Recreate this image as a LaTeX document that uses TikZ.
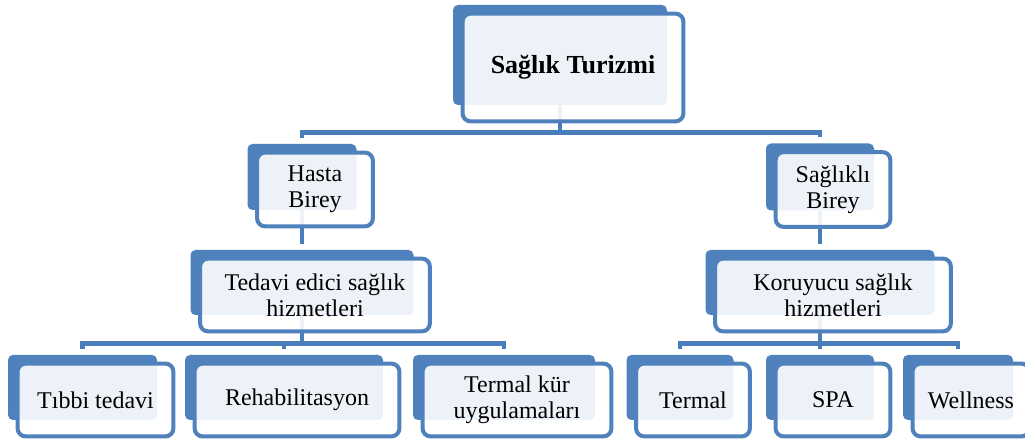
\documentclass[tikz,border=0pt]{standalone}
\usepackage{fontspec}
\setmainfont{Liberation Serif}
\usepackage{tikz}
\usetikzlibrary{calc}

\definecolor{smartblue}{HTML}{4F81BD}
\definecolor{linkblue}{HTML}{4A7EBB}

\tikzset{
	back box/.style={fill=smartblue, rounded corners=2.5pt, inner sep=0pt},
	front box/.style={draw=smartblue, line width=2pt, fill=white, fill opacity=0.9, draw opacity=1, rounded corners=4pt},
	box text/.style={align=center, text=black, font=\fontsize{12}{13}\selectfont, inner sep=0pt},
	link/.style={draw=linkblue, line width=2.2pt},
}

\begin{document}
\begin{tikzpicture}[x=0.5pt, y=-0.5pt]
		\useasboundingbox (0,0) rectangle (1025,442);
		
		% name/x/y/width/height/text
		\def\boxlist{
			top/560/55/214/100/{\fontsize{13}{14}\selectfont\bfseries Sağlık Turizmi},
			hasta/302/177/109/66/{Hasta\\Birey},
			saglikli/820/177/108/67/{Sağlıklı\\Birey},
			tedavi/302/282.5/223/65/{Tedavi edici sağlık\\hizmetleri},
			koruyucu/820/282.5/229/65/{Koruyucu sağlık\\hizmetleri},
			tibbi/82.5/387.5/149/65/{Tıbbi tedavi},
			rehab/284/387.5/198/65/{Rehabilitasyon},
			termalkur/504/387.5/182/65/{Termal kür\\uygulamaları},
			termal/680/387.5/107/65/{Termal},
			spa/820/387.5/108/65/{SPA},
			wellness/958/387.5/110/65/{Wellness}}
		
		\foreach \nm/\cx/\cy/\w/\h/\txt in \boxlist
			\node[back box, minimum width=\w*0.5pt, minimum height=\h*0.5pt] (\nm) at (\cx,\cy) {};
		
		% links
		\draw[link, shorten >=3pt] (top.south) -- ++(0,27) -| (hasta.north);
		\draw[link, shorten >=3pt] (top.south) -- ++(0,27) -| (saglikli.north);
		\draw[link, shorten >=3pt] (hasta.south) -- (tedavi.north);
		\draw[link, shorten >=3pt] (saglikli.south) -- (koruyucu.north);
		\foreach \kid in {tibbi, rehab, termalkur}
			\draw[link, shorten >=3pt] (tedavi.south) -- ++(0,28) -| (\kid.north);
		\foreach \kid in {termal, spa, wellness}
			\draw[link, shorten >=3pt] (koruyucu.south) -- ++(0,28) -| (\kid.north);
		
		\foreach \nm/\cx/\cy/\w/\h/\txt in \boxlist {
			\draw[front box] ($(\nm.north west)+(10,9)$) rectangle ($(\nm.south east)+(16,16)$);
			\node[box text] (\nm-text) at ($(\nm)+(13,12.5)$) {\txt};
		}
	\end{tikzpicture}
\end{document}
